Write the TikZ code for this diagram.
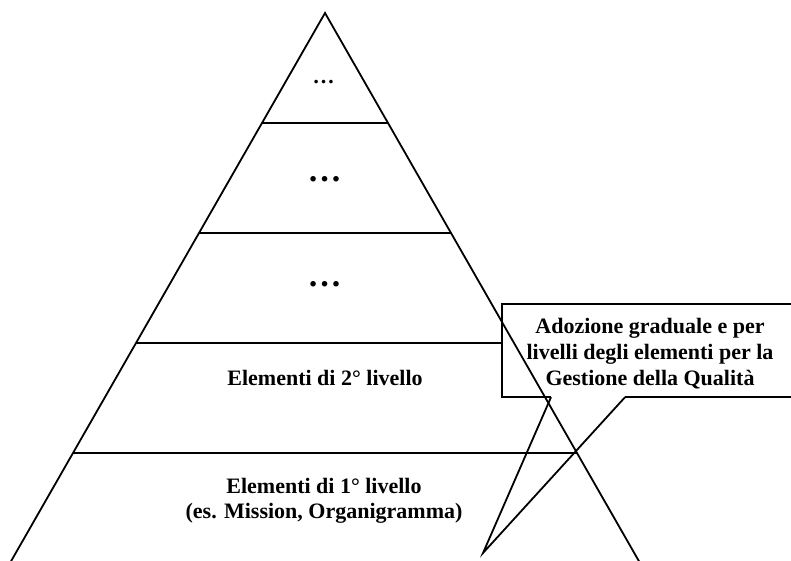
\documentclass[tikz,border=0pt]{standalone}
\usepackage{fontspec}
\setmainfont{Liberation Serif}
\usetikzlibrary{positioning,calc}

\tikzset{
  lbl/.style={font=\fontsize{22}{25}\selectfont\bfseries,align=center,inner sep=0pt},
  ellip/.style={font=\fontsize{#1}{#1}\selectfont\bfseries,inner sep=0pt},
  callout/.style={fill=white,inner sep=0pt,minimum width=360pt,minimum height=93pt},
}

\begin{document}
\begin{tikzpicture}[x=1pt,y=-1pt]
  \useasboundingbox (0,0) rectangle (791,560);
  \clip (0,0) rectangle (791,560);
  \coordinate (apex) at (325,13);
  \coordinate (baseL) at (10,563);
  \coordinate (baseR) at (640,563);
  % level separators
  \foreach \y in {123,233,343,453} {
    \pgfmathsetmacro{\f}{(\y-13)/550}
    \draw[line width=1.2pt] ($(apex)!\f!(baseL)$) -- ($(apex)!\f!(baseR)$);
  }
  % callout box (white, over the separators), runs off the right edge
  \node[callout,anchor=west] (callout) at (502,350.5) {};
  % pyramid sides
  \draw[line width=1.8pt] (baseL) -- (apex) -- (baseR);
  % callout outline with pointer
  \coordinate (tip) at (483,553);
  \coordinate (legL) at ($(callout.south west)+(49,0)$);
  \coordinate (legR) at ($(callout.south west)+(123,0)$);
  \draw[line width=1.5pt] (legL) -- (callout.south west) -- (callout.north west)
    -- (callout.north east) -- (callout.south east) -- (legR);
  \draw[line width=1.8pt] (legL) -- (tip) -- (legR);
  \node[lbl,font=\fontsize{22}{26}\selectfont\bfseries] (callouttxt) at (650,354)
    {Adozione graduale e per\\livelli degli elementi per la\\Gestione della Qualità};
  % level labels
  \node[ellip=22] (top) at (323.5,82) {…};
  \node[ellip=34] (dots4) at (324.5,179) {…};
  \node[ellip=34] (dots3) at (324.5,284) {…};
  \node[lbl,anchor=base] (lev2) at (325,385) {Elementi di 2° livello};
  \node[lbl] (lev1) at (324,501) {Elementi di 1° livello\\(es. Mission, Organigramma)};
\end{tikzpicture}
\end{document}
